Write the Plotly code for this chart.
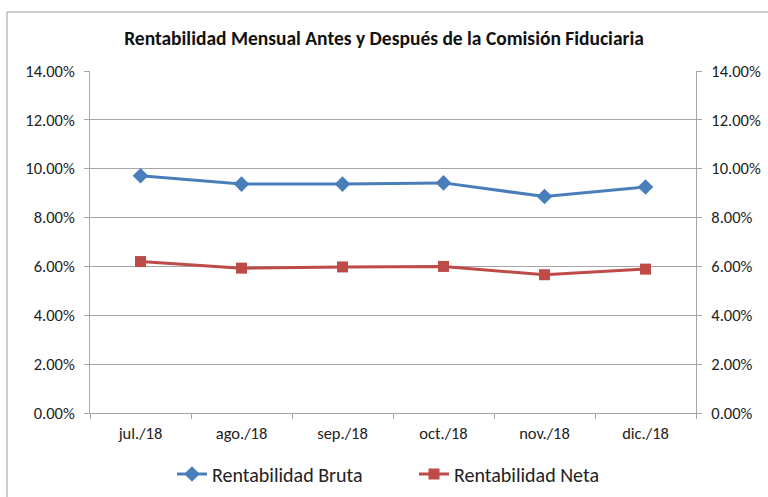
import plotly.graph_objects as go

months = ["jul./18", "ago./18", "sep./18", "oct./18", "nov./18", "dic./18"]
bruta = [9.71, 9.37, 9.37, 9.42, 8.86, 9.25]
neta = [6.20, 5.93, 5.98, 6.00, 5.66, 5.89]
yticks = [0, 2, 4, 6, 8, 10, 12, 14]
ytext = [f"{v:.2f}%" for v in yticks]

FONT = "Carlito, Lato, sans-serif"
BLUE = "#4a7ebb"
RED = "#be4b48"
GRID = "#a6a6a6"

fig = go.Figure()
fig.add_trace(go.Scatter(x=months, y=bruta, name="Rentabilidad Bruta", mode="lines+markers",
                         line=dict(color=BLUE, width=3),
                         marker=dict(symbol="diamond", size=12, color=BLUE)))
fig.add_trace(go.Scatter(x=months, y=neta, name="Rentabilidad Neta", mode="lines+markers",
                         line=dict(color=RED, width=3),
                         marker=dict(symbol="square", size=11, color=RED)))
# invisible trace to show right axis
fig.add_trace(go.Scatter(x=months, y=bruta, yaxis="y2", showlegend=False,
                         mode="lines", line=dict(width=0), opacity=0, hoverinfo="skip"))

axis_common = dict(range=[0, 14], tickvals=yticks, ticktext=ytext,
                   showline=True, linecolor=GRID, linewidth=1,
                   ticks="outside", ticklen=5, tickcolor=GRID, automargin=False,
                   ticklabelstandoff=6,
                   tickfont=dict(family=FONT, size=16.5, color="#222"))

fig.update_layout(
    width=768, height=497,
    margin=dict(l=90, r=72, t=71, b=84, autoexpand=False),
    paper_bgcolor="white", plot_bgcolor="white",
    title=dict(text="<b>Rentabilidad Mensual Antes y Después de la Comisión Fiduciaria</b>",
               x=0.5, xanchor="center", y=1 - 38 / 497, yanchor="middle",
               font=dict(family=FONT, size=19.5, color="#111")),
    xaxis=dict(range=[-0.5, 5.5], showline=True, linecolor=GRID, ticks="outside", ticklen=5,
               tickcolor=GRID, tickson="boundaries", showgrid=False, automargin=False,
               ticklabelstandoff=5,
               tickfont=dict(family=FONT, size=16.5, color="#222")),
    yaxis=dict(showgrid=True, gridcolor=GRID, gridwidth=1, zeroline=False, **axis_common),
    yaxis2=dict(overlaying="y", side="right", showgrid=False, zeroline=False, **axis_common),
    legend=dict(orientation="h", x=(172 - 90) / 606, xanchor="left", y=(413 - 474) / 342, yanchor="middle",
                font=dict(family=FONT, size=20, color="#222"), itemwidth=30,
                entrywidth=197, entrywidthmode="pixels",
                traceorder="normal"),
    shapes=[dict(type="rect", xref="paper", yref="paper",
                 x0=-83 / 606, x1=(775 - 90) / 606, y0=(413 - 505) / 342, y1=(413 - 12) / 342,
                 line=dict(color="#9a9a9a", width=1), fillcolor="rgba(0,0,0,0)", layer="below")],
)

fig.write_html("out.html", config={"displayModeBar": False},
               post_script="document.body.style.margin='0';document.body.style.overflow='hidden';")
